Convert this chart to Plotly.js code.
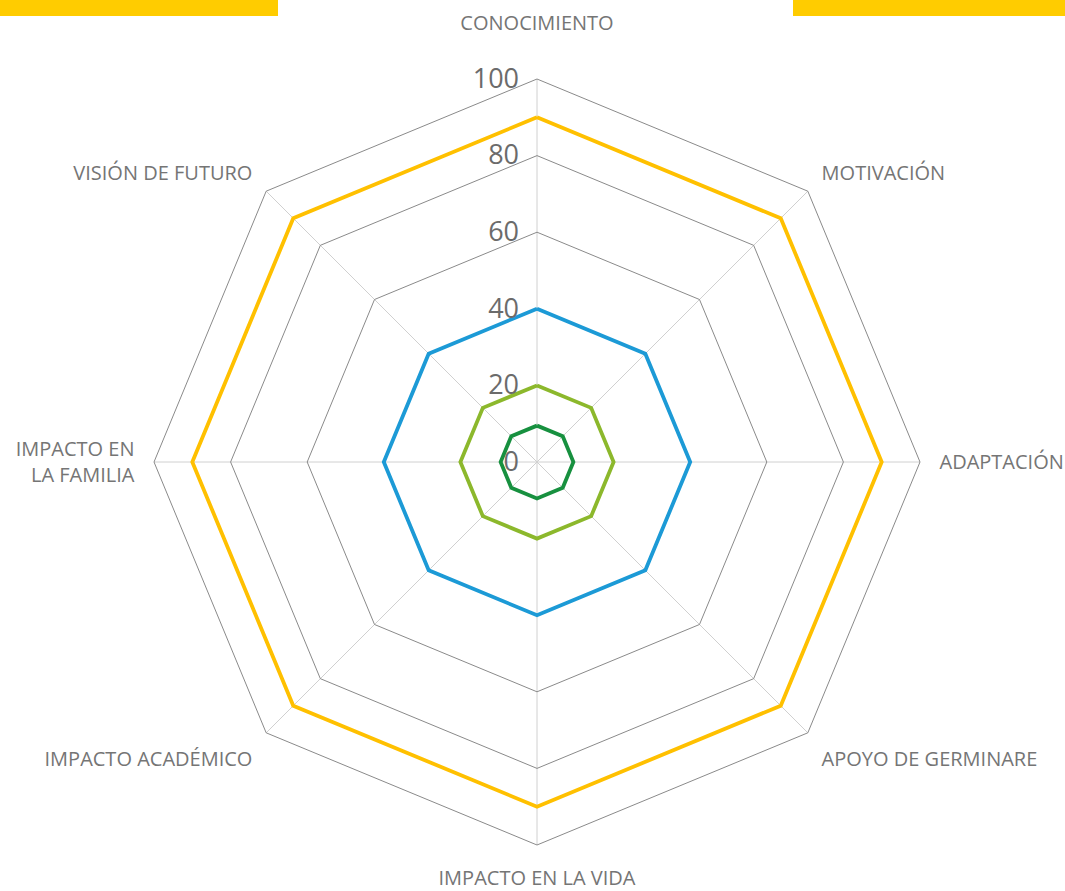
<!DOCTYPE html>
<html>
<head>
<meta charset="utf-8">
<script src="https://cdn.plot.ly/plotly-3.0.1.min.js"></script>
<style>html,body{margin:0;padding:0;background:#fff;}#chart{width:1065px;height:891px;}</style>
</head>
<body>
<div id="chart"></div>
<script>
const categories = ["CONOCIMIENTO<br> ", "MOTIVACIÓN", "ADAPTACIÓN", "APOYO DE GERMINARE", "IMPACTO EN LA VIDA", "IMPACTO ACADÉMICO", "IMPACTO EN<br>LA FAMILIA", "VISIÓN DE FUTURO"];
const seriesYellow = [90, 90, 90, 90, 90, 90, 90, 90];
const seriesBlue = [40, 40, 40, 40, 40, 40, 40, 40];
const seriesLightGreen = [20, 20, 20, 20, 20, 20, 20, 20];
const seriesDarkGreen = [9.5, 9.5, 9.5, 9.5, 9.5, 9.5, 9.5, 9.5];
const radialTicks = [0, 20, 40, 60, 80, 100];

function closed(a) { return a.concat([a[0]]); }
function mk(vals, color, name) {
  return {
    type: 'scatterpolar', mode: 'lines', name: name,
    r: closed(vals), theta: closed(categories),
    line: {color: color, width: 3.8}, hoverinfo: 'skip'
  };
}
const data = [
  mk(seriesYellow, '#FFC000', 'A'),
  mk(seriesBlue, '#1C9AD6', 'B'),
  mk(seriesLightGreen, '#8CB82C', 'C'),
  mk(seriesDarkGreen, '#17903F', 'D')
];
const layout = {
  width: 1065, height: 891,
  margin: {l: 0, r: 0, t: 0, b: 0},
  paper_bgcolor: '#fff',
  showlegend: false,
  font: {family: '"Open Sans", "Noto Sans", sans-serif', color: '#757575'},
  polar: {
    domain: {x: [154/1065, 920/1065], y: [46/891, 812/891]},
    bgcolor: 'rgba(0,0,0,0)',
    gridshape: 'linear',
    angularaxis: {
      rotation: 90, direction: 'clockwise',
      showline: true, linecolor: '#8a8a8a', linewidth: 1,
      gridcolor: '#d0d0d0', gridwidth: 1,
      ticks: 'outside', ticklen: 15, tickcolor: 'rgba(0,0,0,0)',
      tickfont: {size: 20, color: '#757575'}
    },
    radialaxis: {
      range: [0, 100], angle: 90, side: 'counterclockwise',
      tickvals: radialTicks, ticktext: radialTicks.map(String),
      tickangle: 90,
      showline: false, ticks: 'outside', ticklen: 8, tickcolor: 'rgba(0,0,0,0)',
      gridcolor: '#8a8a8a', gridwidth: 1,
      tickfont: {size: 27, color: '#6b6b6b'}
    }
  },
  shapes: [
    {type: 'rect', xref: 'paper', yref: 'paper', x0: 0, x1: 278/1065, y0: 1 - 16/891, y1: 1, fillcolor: '#FFCC00', line: {width: 0}},
    {type: 'rect', xref: 'paper', yref: 'paper', x0: 793/1065, x1: 1, y0: 1 - 16/891, y1: 1, fillcolor: '#FFCC00', line: {width: 0}}
  ]
};
Plotly.newPlot('chart', data, layout, {displayModeBar: false, staticPlot: true});
</script>
</body>
</html>
